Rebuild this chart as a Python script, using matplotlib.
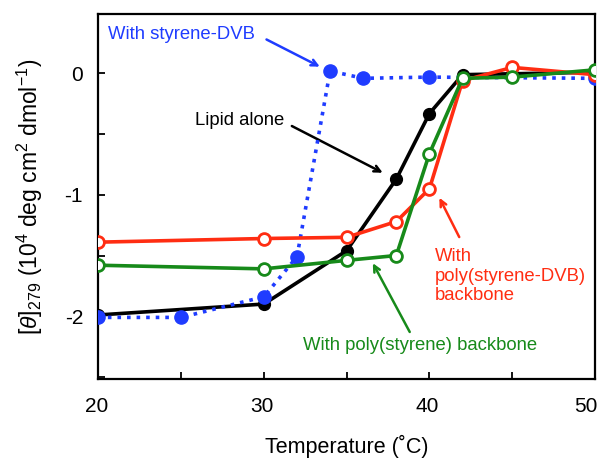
import matplotlib
matplotlib.use("Agg")
import matplotlib.pyplot as plt
import matplotlib.transforms as mtransforms

plt.rcParams['font.family'] = ['Liberation Sans', 'DejaVu Sans']
plt.rcParams['mathtext.fontset'] = 'custom'
plt.rcParams['mathtext.rm'] = 'Liberation Sans'
plt.rcParams['mathtext.it'] = 'Liberation Sans:italic'

# Data
lipid_x = [20, 30, 35, 38, 40, 42, 50]
lipid_y = [-1.99, -1.90, -1.46, -0.87, -0.33, -0.01, 0.01]

sdvb_x = [20, 25, 30, 32, 34, 36, 40, 50]
sdvb_y = [-2.01, -2.01, -1.84, -1.51, 0.02, -0.04, -0.03, -0.04]

psdvb_x = [20, 30, 35, 38, 40, 42, 45, 50]
psdvb_y = [-1.39, -1.36, -1.35, -1.22, -0.95, -0.06, 0.05, -0.01]

ps_x = [20, 30, 35, 38, 40, 42, 45, 50]
ps_y = [-1.58, -1.61, -1.54, -1.50, -0.66, -0.04, -0.03, 0.03]

xticks = [20, 25, 30, 35, 40, 45, 50]
xticklabels = ['20', '', '30', '', '40', '', '50']
yticks = [-2.5, -2.0, -1.5, -1.0, -0.5, 0.0]
yticklabels = ['', '-2', '', '-1', '', '0']

blue = '#1f3cff'
red = '#ff2d12'
green = '#178a1a'
black = '#000000'

fig = plt.figure(figsize=(6.04, 4.58), dpi=100)
ax = fig.add_axes([98.3/604, 1-379.3/458, (595-98.3)/604, (379.3-14)/458])

ax.plot(lipid_x, lipid_y, color=black, lw=2.6, marker='o', ms=8.5, zorder=3)
ax.plot(sdvb_x, sdvb_y, color=blue, lw=2.6, ls=':', marker='o', ms=9.5, zorder=4)
ax.plot(psdvb_x, psdvb_y, color=red, lw=2.6, marker='o', ms=8.5, mfc='white', mew=2, zorder=5)
ax.plot(ps_x, ps_y, color=green, lw=2.6, marker='o', ms=8.5, mfc='white', mew=2, zorder=6)

ax.set_xlim(20, 50)
ax.set_ylim(-2.52, 0.49)
ax.set_xticks(xticks)
ax.set_xticklabels(xticklabels)
ax.set_yticks(yticks)
ax.set_yticklabels(yticklabels)
ax.tick_params(axis='x', direction='in', length=5, width=1.3, labelsize=15, pad=13)
ax.tick_params(axis='y', direction='in', length=5, width=1.3, labelsize=15, pad=11)
for s in ax.spines.values():
    s.set_linewidth(1.6)

# shift x tick labels slightly left, last one more so it fits
for i, lab in enumerate(ax.get_xticklabels()):
    dx = -9 if xticklabels[i] == '50' else -2
    lab.set_transform(lab.get_transform() + mtransforms.ScaledTranslation(dx/100, 0, fig.dpi_scale_trans))

ax.set_xlabel('Temperature (˚C)', fontsize=15.5, labelpad=13)
ax.set_ylabel(r'[$\it{\theta}$]$_{279}$ (10$^{4}$ deg cm$^{2}$ dmol$^{-1}$)', fontsize=16.5, labelpad=14)

aprops = dict(arrowstyle='->,head_length=0.45,head_width=0.22', lw=1.8, shrinkA=0, shrinkB=0)

ax.text(20.59, 0.318, 'With styrene-DVB', color=blue, fontsize=13.3, va='center', ha='left')
ax.annotate('', xy=(33.38, 0.056), xytext=(30.16, 0.28),
            arrowprops=dict(aprops, color=blue))

ax.text(25.84, -0.384, 'Lipid alone', color=black, fontsize=13.3, va='center', ha='left')
ax.annotate('', xy=(37.18, -0.818), xytext=(31.69, -0.433),
            arrowprops=dict(aprops, color=black))

ax.text(40.32, -1.67, 'With\npoly(styrene-DVB)\nbackbone', color=red, fontsize=13.3,
        va='center', ha='left')
ax.annotate('', xy=(40.6, -1.024), xytext=(41.8, -1.348),
            arrowprops=dict(aprops, color=red))

ax.text(32.35, -2.24, 'With poly(styrene) backbone', color=green, fontsize=13.3,
        va='center', ha='left')
ax.annotate('', xy=(36.58, -1.563), xytext=(38.81, -2.13),
            arrowprops=dict(aprops, color=green))

fig.savefig('out.png', dpi=100)
